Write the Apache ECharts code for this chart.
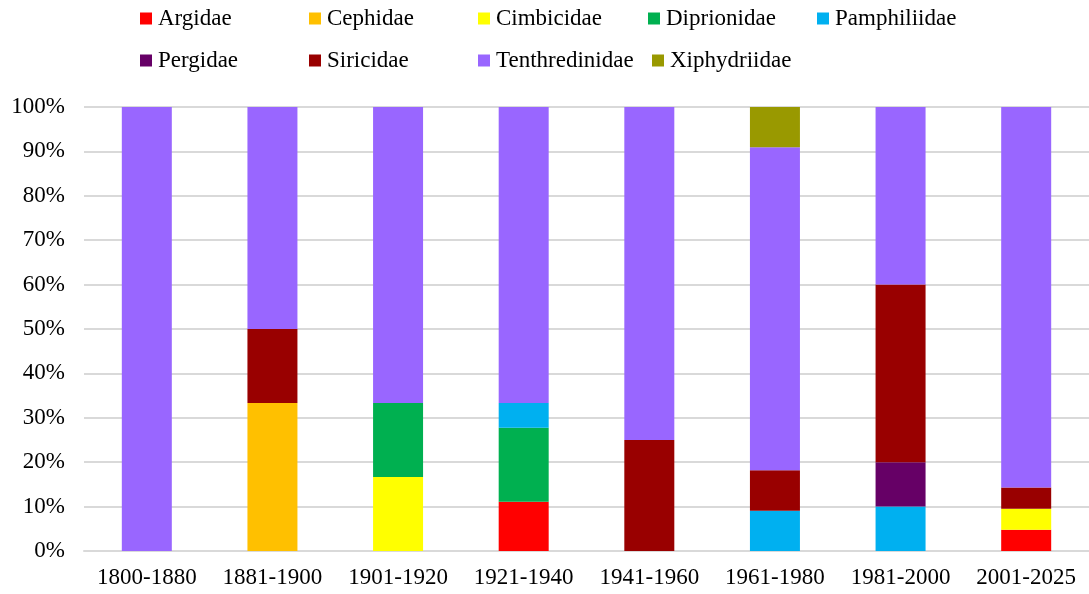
<!DOCTYPE html>
<html>
<head>
<meta charset="utf-8">
<script src="https://cdn.jsdelivr.net/npm/echarts@6/dist/echarts.min.js"></script>
<style>html,body{margin:0;padding:0;background:#fff;}#c{width:1089px;height:594px;}</style>
</head>
<body>
<div id="c"></div>
<script>
const categories = ['1800-1880','1881-1900','1901-1920','1921-1940','1941-1960','1961-1980','1981-2000','2001-2025'];
const families = ['Argidae','Cephidae','Cimbicidae','Diprionidae','Pamphiliidae','Pergidae','Siricidae','Tenthredinidae','Xiphydriidae'];
const argidae        = [0, 0, 0, 11.11, 0, 0, 0, 4.76];
const cephidae       = [0, 33.33, 0, 0, 0, 0, 0, 0];
const cimbicidae     = [0, 0, 16.67, 0, 0, 0, 0, 4.76];
const diprionidae    = [0, 0, 16.67, 16.67, 0, 0, 0, 0];
const pamphiliidae   = [0, 0, 0, 5.56, 0, 9.09, 10, 0];
const pergidae       = [0, 0, 0, 0, 0, 0, 10, 0];
const siricidae      = [0, 16.67, 0, 0, 25, 9.09, 40, 4.76];
const tenthredinidae = [100, 50, 66.67, 66.67, 75, 72.73, 40, 85.71];
const xiphydriidae   = [0, 0, 0, 0, 0, 9.09, 0, 0];
const yTicks = ['0%','10%','20%','30%','40%','50%','60%','70%','80%','90%','100%'];

const seriesValues = [argidae, cephidae, cimbicidae, diprionidae, pamphiliidae, pergidae, siricidae, tenthredinidae, xiphydriidae];
const colors = ['#FF0000','#FFC000','#FFFF00','#00B050','#00B0F0','#660066','#990000','#9966FF','#999900'];

const font = '"Liberation Serif", "Times New Roman", serif';
const legendPos = [
  [140, 7], [309, 7], [478, 7], [648, 7], [817, 7],
  [140, 49], [309, 49], [478, 49], [652, 49]
];

const chart = echarts.init(document.getElementById('c'), null, {renderer: 'canvas'});
chart.setOption({
  animation: false,
  backgroundColor: '#fff',
  color: colors,
  legend: families.map((f, i) => ({
    data: [f],
    left: legendPos[i][0],
    top: legendPos[i][1],
    padding: 0,
    itemWidth: 12,
    itemHeight: 12,
    itemGap: 0,
    icon: 'rect',
    textStyle: {fontFamily: font, fontSize: 23, color: '#000', padding: [0, 0, 0, 1]}
  })),
  grid: {left: 84, right: 0, top: 107, bottom: 43, containLabel: false},
  xAxis: {
    type: 'category',
    data: categories,
    axisLine: {show: true, lineStyle: {color: '#d9d9d9', width: 2}},
    axisTick: {show: false},
    axisLabel: {fontFamily: font, fontSize: 23, color: '#000', margin: 15, interval: 0, hideOverlap: false}
  },
  yAxis: {
    type: 'value',
    min: 0,
    max: 100,
    interval: 10,
    axisLine: {show: false},
    axisTick: {show: false},
    splitLine: {lineStyle: {color: '#d9d9d9', width: 2}},
    axisLabel: {fontFamily: font, fontSize: 23, color: '#000', margin: 19,
      formatter: (v) => yTicks[Math.round(v / 10)]}
  },
  series: families.map((f, i) => ({
    name: f,
    type: 'bar',
    stack: 'total',
    barWidth: 50,
    data: seriesValues[i],
    itemStyle: {color: colors[i]}
  }))
});
</script>
</body>
</html>
